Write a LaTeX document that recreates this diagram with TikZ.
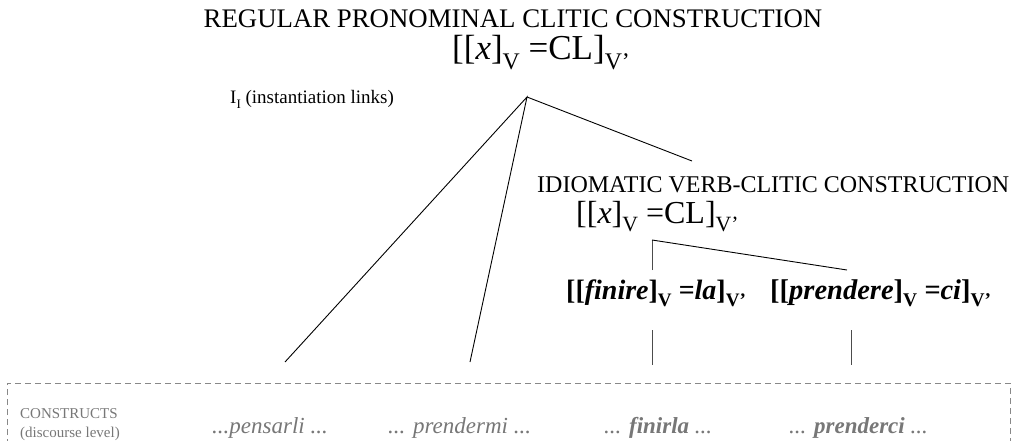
\documentclass[tikz,border=0pt]{standalone}
\usepackage{fontspec}
\setmainfont{Liberation Serif}
\newcommand\vsub[1]{\raisebox{-0.28em}{\scalebox{0.68}{#1}}}
\definecolor{txtgray}{HTML}{777777}
\definecolor{boxgray}{HTML}{888888}
\begin{document}
\begin{tikzpicture}[x=1pt,y=-1pt,
  lbl/.style={inner sep=0pt,anchor=base west},
  link/.style={line width=0.9pt,black},
  glink/.style={line width=0.9pt,black!70},
  cstr/.style={inner sep=0pt,anchor=base west,text=txtgray,font=\fontsize{23}{27}\selectfont\itshape}]
\useasboundingbox (0,0) rectangle (1019,441);
% top construction
\node[inner sep=0pt,anchor=base] (title) at (513,28) {\fontsize{26.8}{30}\selectfont REGULAR PRONOMINAL CLITIC CONSTRUCTION};
\node[lbl] (topf) at (452,60) {\fontsize{35}{40}\selectfont [[\textit{x}]\vsub{V} =CL]\vsub{V’}};
\node[lbl] (inst) at (230,103) {\fontsize{19}{22}\selectfont I\vsub{I} (instantiation links)};
\coordinate (apex) at (527,97);
% idiomatic
\node[lbl] (idio) at (537,192) {\fontsize{24}{28}\selectfont IDIOMATIC VERB-CLITIC CONSTRUCTION};
\node[lbl] (idf) at (576,223) {\fontsize{32}{36}\selectfont [[\textit{x}]\vsub{V} =CL]\vsub{V’}};
\coordinate (apex2) at (652,240);
\coordinate (idtop) at (692,161);
% bold instances
\node[lbl] (fin) at (566,299) {\fontsize{28}{32}\selectfont\bfseries [[\textit{finire}]\vsub{V} \textit{=la}]\vsub{V’}};
\node[lbl] (pre) at (770,299) {\fontsize{28.5}{32}\selectfont\bfseries [[\textit{prendere}]\vsub{V} \textit{=ci}]\vsub{V’}};
\coordinate (finT) at (652,270);
\coordinate (preT) at (847,270);
\coordinate (finB) at (652,330);
\coordinate (finE) at (652,365);
\coordinate (preB) at (851,330);
\coordinate (preE) at (851,365);
% constructs box
\draw[boxgray,dashed,line width=0.8pt,dash pattern=on 6pt off 4pt] (7,445) -- (7,383) -- (1010,383) -- (1010,445);
\node[lbl,text=txtgray] (cons) at (20,418) {\fontsize{15}{18}\selectfont CONSTRUCTS};
\node[lbl,text=txtgray] (disc) at (20,437) {\fontsize{15}{18}\selectfont (discourse level)};
\node[cstr] (pens) at (212,433) {...pensarli ...};
\node[cstr] (prem) at (388,433) {... prendermi ...};
\node[cstr] (finl) at (604,433) {... \textbf{finirla} ...};
\node[cstr] (prec) at (789,433) {... \textbf{prenderci} ...};
\coordinate (pensT) at (285,362);
\coordinate (premT) at (470,362);
% links
\draw[link] (pensT) -- (apex) -- (premT);
\draw[link] (apex) -- (idtop);
\draw[glink] (finT) -- (apex2);
\draw[link] (apex2) -- (preT);
\draw[glink] (finB) -- (finE);
\draw[glink] (preB) -- (preE);
\end{tikzpicture}
\end{document}
